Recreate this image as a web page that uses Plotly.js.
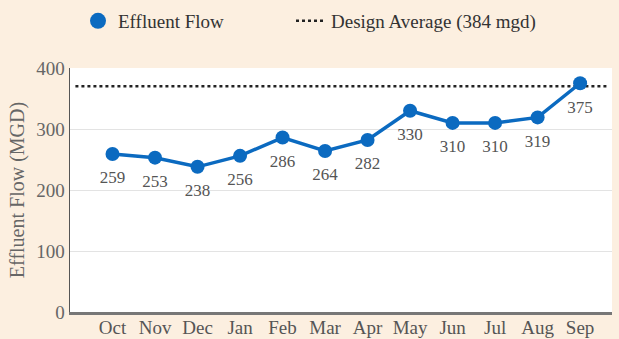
<!DOCTYPE html>
<html>
<head>
<meta charset="utf-8">
<script src="https://cdn.plot.ly/plotly-3.0.1.min.js"></script>
<style>html,body{margin:0;padding:0;background:#fcefe0;}#chart{width:619px;height:339px;}</style>
</head>
<body>
<div id="chart"></div>
<script>
const months = ["Oct","Nov","Dec","Jan","Feb","Mar","Apr","May","Jun","Jul","Aug","Sep"];
const effluentFlow = [259,253,238,256,286,264,282,330,310,310,319,375];
const flowLabels = ["259","253","238","256","286","264","282","330","310","310","319","375"];
const designAverageLabel = "Design Average (384 mgd)";
const designAverageDrawn = 370; // position where the dotted line is drawn in the picture
const yTicks = [0,100,200,300,400];

const blue = "#0b6ac0";
const serif = "Liberation Serif, Times New Roman, serif";

const traces = [
  {
    x: months, y: effluentFlow, type: "scatter", mode: "lines+markers",
    line: {color: blue, width: 3.5},
    marker: {color: blue, size: 14},
    showlegend: false, hoverinfo: "x+y", cliponaxis: false
  },
  {
    x: months, y: effluentFlow, type: "scatter", mode: "markers+text",
    text: flowLabels, textposition: "bottom center",
    textfont: {family: serif, size: 17, color: "#555"},
    marker: {color: "rgba(0,0,0,0)", size: 25},
    showlegend: false, hoverinfo: "skip", cliponaxis: false
  },
  {
    x: [null], y: [null], type: "scatter", mode: "markers",
    name: "Effluent Flow", marker: {color: blue, size: 20}, showlegend: true, legend: "legend"
  },
  {
    x: [null], y: [null], type: "scatter", mode: "lines",
    name: designAverageLabel, line: {color: "#222", width: 2.5, dash: "dot"}, showlegend: true, legend: "legend2"
  }
];

const legendCommon = {
  orientation: "h", xref: "container", yref: "container",
  y: 1 - 21/339, xanchor: "left", yanchor: "middle",
  bgcolor: "rgba(0,0,0,0)", font: {family: serif, size: 19, color: "#333"}
};

const layout = {
  width: 619, height: 339,
  margin: {l: 70, r: 7, t: 68, b: 27},
  paper_bgcolor: "#fcefe0",
  plot_bgcolor: "#ffffff",
  font: {family: serif, color: "#555", size: 14},
  showlegend: true,
  legend: Object.assign({}, legendCommon, {x: 78/619}),
  legend2: Object.assign({}, legendCommon, {x: 291/619, itemwidth: 30}),
  xaxis: {
    type: "category", range: [-1, 11.75], showgrid: false, zeroline: false,
    showline: true, linecolor: "#777", linewidth: 3,
    tickfont: {family: serif, size: 19, color: "#555"}, ticklabelstandoff: -4, fixedrange: true
  },
  yaxis: {
    range: [0, 400], tickvals: yTicks, ticktext: yTicks.map(String),
    showgrid: true, gridcolor: "#e3e3e3", gridwidth: 1, zeroline: false,
    showline: true, linecolor: "#555", linewidth: 1.5,
    tickfont: {family: serif, size: 19, color: "#666"},
    title: {text: "Effluent Flow (MGD)", font: {family: serif, size: 20, color: "#666"}, standoff: 6},
    fixedrange: true
  },
  shapes: [
    {type: "line", xref: "paper", yref: "y", x0: 0.01, x1: 0.995, y0: designAverageDrawn, y1: designAverageDrawn,
     line: {color: "#222", width: 2.5, dash: "dot"}, layer: "below"}
  ]
};

Plotly.newPlot("chart", traces, layout, {staticPlot: true, displayModeBar: false});
</script>
</body>
</html>
